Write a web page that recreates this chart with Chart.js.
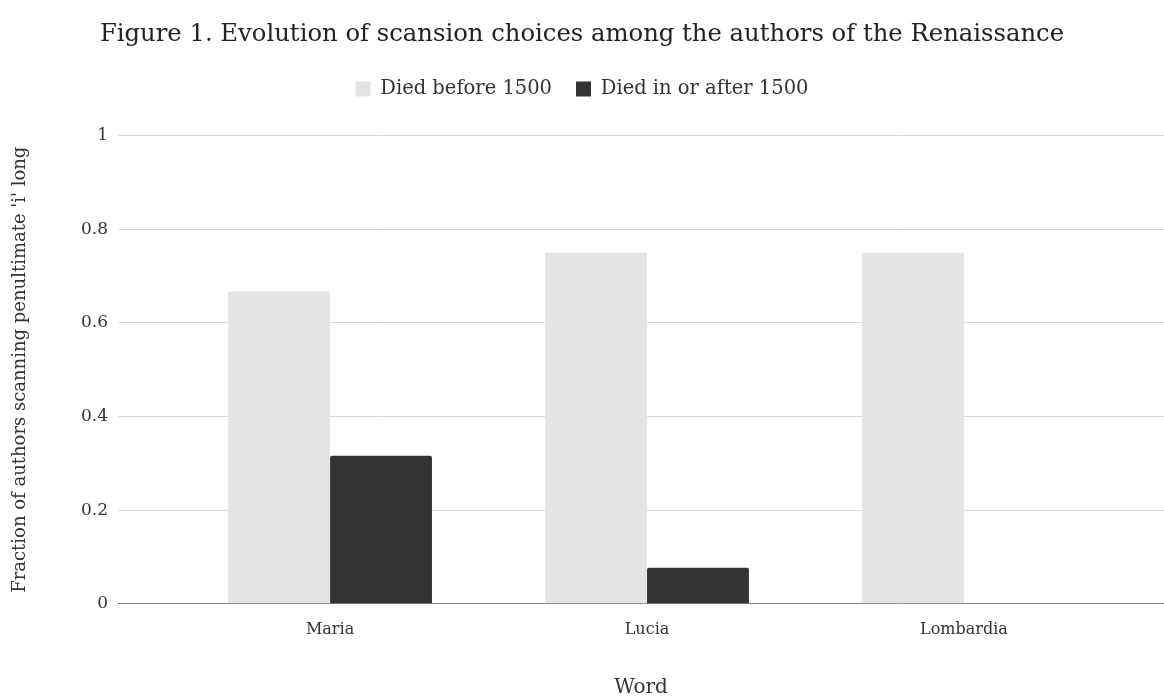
<!DOCTYPE html>
<html>
<head>
<meta charset="utf-8">
<script src="https://cdn.jsdelivr.net/npm/chart.js@4.4.1/dist/chart.umd.min.js"></script>
<style>
  html, body { margin: 0; padding: 0; background: #fff; }
  #wrap { width: 1164px; height: 698px; }
</style>
</head>
<body>
<div id="wrap"><canvas id="chart" width="1164" height="698"></canvas></div>
<script>
// Words examined, and the share of authors scanning the penultimate 'i' long
const words = ['Maria', 'Lucia', 'Lombardia'];
const diedBefore1500 = [0.667, 0.75, 0.75];
const diedInOrAfter1500 = [0.316, 0.077, 0];
const yTickLabels = ['0', '0.2', '0.4', '0.6', '0.8', '1'];

const serif = "'DejaVu Serif', 'Liberation Serif', serif";

const points = arr => arr.map((v, i) => ({ x: i, y: v }));

// Leave some air between the legend and the plot area
const legendGap = {
  id: 'legendGap',
  beforeInit(chart) {
    const fit = chart.legend.fit;
    chart.legend.fit = function () {
      fit.call(this);
      this.height += 27;
    };
  }
};

new Chart(document.getElementById('chart'), {
  type: 'bar',
  data: {
    datasets: [
      {
        label: 'Died before 1500',
        data: points(diedBefore1500),
        backgroundColor: '#e4e4e4',
        borderRadius: 0
      },
      {
        label: 'Died in or after 1500',
        data: points(diedInOrAfter1500),
        backgroundColor: '#333333',
        borderRadius: 2
      }
    ]
  },
  plugins: [legendGap],
  options: {
    responsive: false,
    animation: false,
    devicePixelRatio: 1,
    layout: { padding: { left: 0, right: 0, top: 0, bottom: 0 } },
    datasets: { bar: { barPercentage: 1, categoryPercentage: 0.643 } },
    plugins: {
      title: {
        display: true,
        text: 'Figure 1. Evolution of scansion choices among the authors of the Renaissance',
        color: '#222',
        font: { family: serif, size: 24.3, weight: 'normal' },
        padding: { top: 20, bottom: 6 }
      },
      legend: {
        display: true,
        labels: {
          color: '#333',
          font: { family: serif, size: 19.5 },
          boxWidth: 15,
          boxHeight: 15,
          padding: 24
        }
      },
      tooltip: { enabled: false }
    },
    scales: {
      x: {
        type: 'linear',
        min: -0.669,
        max: 2.631,
        offset: false,
        grid: { display: false },
        border: { display: false },
        afterBuildTicks: s => { s.ticks = words.map((w, i) => ({ value: i })); },
        ticks: {
          color: '#333',
          font: { family: serif, size: 16 },
          padding: 8,
          autoSkip: false,
          maxRotation: 0,
          callback: v => words[v]
        },
        title: {
          display: true,
          text: 'Word',
          color: '#333',
          font: { family: serif, size: 20, lineHeight: 1 },
          padding: { top: 31, bottom: 0 }
        }
      },
      y: {
        min: 0,
        max: 1,
        afterFit: s => { s.width = 118; },
        afterBuildTicks: s => { s.ticks = yTickLabels.map(t => ({ value: parseFloat(t) })); },
        grid: {
          color: ctx => (ctx.tick && ctx.tick.value === 0 ? '#7f7f7f' : '#d8d8d8'),
          lineWidth: 1,
          drawTicks: false
        },
        border: { display: false },
        ticks: {
          color: '#333',
          font: { family: serif, size: 17 },
          padding: 10,
          callback: (v, i) => yTickLabels[i]
        },
        title: {
          display: true,
          text: "Fraction of authors scanning penultimate 'i' long",
          color: '#333',
          font: { family: serif, size: 18 },
          padding: { top: 10, bottom: 0 }
        }
      }
    }
  }
});
</script>
</body>
</html>
